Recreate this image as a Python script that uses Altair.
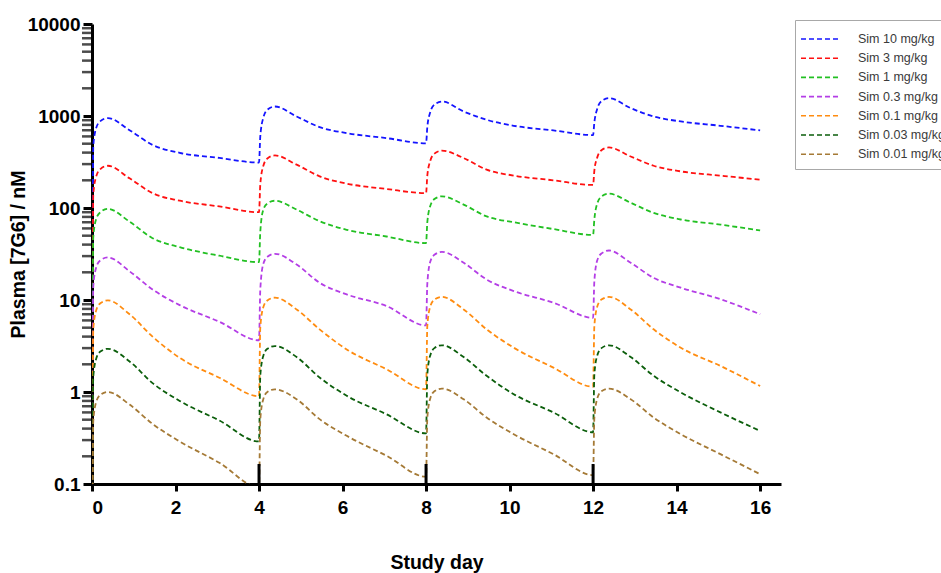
import altair as alt
import pandas as pd

# Simulated plasma concentration of 7G6 (nM), dosing every 4 days
times = [
    0.0, 0.03, 0.1, 0.2, 0.38, 0.9, 1.45, 2.1, 3.05,
    4.0, 4.03, 4.1, 4.2, 4.38, 4.9, 5.45, 6.1, 7.05,
    8.0, 8.03, 8.1, 8.2, 8.38, 8.9, 9.45, 10.1, 11.05,
    12.0, 12.03, 12.1, 12.2, 12.38, 12.9, 13.45, 14.1, 15.05,
    16.0,
]

sim_10 = [
    0.01, 470, 740, 880, 950, 700, 485, 398, 350,
    312, 600, 950, 1170, 1268, 988, 757, 652, 575,
    505, 760, 1100, 1330, 1436, 1119, 910, 783, 697,
    620, 850, 1200, 1450, 1563, 1218, 988, 872, 783,
    697,
]
sim_3 = [
    0.01, 140, 220, 265, 288, 210, 145, 120, 104,
    90, 180, 285, 345, 373, 296, 221, 184, 161,
    145, 225, 325, 390, 420, 349, 261, 225, 200,
    178, 255, 355, 425, 455, 363, 288, 250, 225,
    203,
]
sim_1 = [
    0.01, 48, 76, 90, 98, 71, 47, 37.5, 30.3,
    25.8, 55, 95, 112, 120, 96, 72, 58, 49,
    41.5, 70, 105, 125, 134, 109, 81, 70, 59,
    51, 75, 112, 133, 143, 114, 88.5, 75, 66,
    57,
]
sim_03 = [
    0.01, 14, 22.5, 27, 29, 20.5, 13, 8.8, 5.8,
    3.65, 13, 24.5, 29.5, 31.8, 24.3, 15.4, 11.5, 8.6,
    5.3, 15, 26, 31, 33.4, 25.4, 16.7, 12.5, 9.35,
    6.4, 16, 27, 32, 34.5, 25.4, 17.4, 13.6, 10.2,
    7.0,
]
sim_01 = [
    0.01, 4.8, 7.7, 9.2, 9.9, 7.0, 4.0, 2.35, 1.43,
    0.9, 5.0, 8.3, 9.9, 10.6, 7.9, 4.8, 2.9, 1.77,
    1.07, 5.2, 8.5, 10.1, 10.8, 7.9, 4.8, 3.03, 1.84,
    1.14, 5.2, 8.5, 10.1, 10.8, 7.9, 4.8, 3.03, 1.92,
    1.16,
]
sim_003 = [
    0.01, 1.45, 2.3, 2.75, 2.95, 2.15, 1.25, 0.8, 0.49,
    0.29, 1.5, 2.45, 2.95, 3.16, 2.4, 1.44, 0.91, 0.574,
    0.355, 1.55, 2.5, 3.0, 3.22, 2.4, 1.5, 0.946, 0.6,
    0.365, 1.55, 2.5, 3.0, 3.22, 2.4, 1.5, 0.99, 0.6,
    0.378,
]
sim_001 = [
    0.01, 0.48, 0.78, 0.93, 1.0, 0.73, 0.45, 0.29, 0.17,
    0.092, 0.5, 0.83, 1.0, 1.07, 0.835, 0.507, 0.334, 0.203,
    0.12, 0.52, 0.85, 1.02, 1.09, 0.835, 0.528, 0.348, 0.211,
    0.125, 0.52, 0.85, 1.02, 1.09, 0.835, 0.528, 0.348, 0.211,
    0.128,
]

series_names = [
    "Sim 10 mg/kg", "Sim 3 mg/kg", "Sim 1 mg/kg", "Sim 0.3 mg/kg",
    "Sim 0.1 mg/kg", "Sim 0.03 mg/kg", "Sim 0.01 mg/kg",
]
series_values = [sim_10, sim_3, sim_1, sim_03, sim_01, sim_003, sim_001]
series_colors = [
    "#1414ff", "#ff1010", "#22c022", "#b43ee6",
    "#ff8c10", "#0b5e0b", "#a57a36",
]

# Dose days and the marker height drawn at each
dose_days = [4, 8, 12]
dose_marker_top = 0.165

y_ticks = [0.1, 1, 10, 100, 1000, 10000]
y_minor = [m * 10.0 ** e for e in range(-1, 4) for m in range(2, 10)]
x_ticks = [0, 2, 4, 6, 8, 10, 12, 14, 16]

rows = []
for name, vals in zip(series_names, series_values):
    for t, v in zip(times, vals):
        rows.append({"day": t, "conc": v, "series": name})
df = pd.DataFrame(rows)

dose_df = pd.DataFrame({"day": dose_days, "lo": [0.1] * len(dose_days),
                        "hi": [dose_marker_top] * len(dose_days)})
minor_df = pd.DataFrame({"conc": y_minor})

FONT = "Liberation Sans"

x_scale = alt.Scale(domain=[0, 16.5], nice=False, zero=False)
y_scale = alt.Scale(type="log", domain=[0.1, 10000], nice=False)

lines = alt.Chart(df).mark_line(
    strokeDash=[5, 3], strokeWidth=1.8, clip=True, interpolate="monotone"
).encode(
    x=alt.X("day:Q", scale=x_scale,
            axis=alt.Axis(values=x_ticks, title="Study day", format="d",
                          titlePadding=36)),
    y=alt.Y("conc:Q", scale=y_scale,
            axis=alt.Axis(values=y_ticks, title="Plasma [7G6] / nM",
                          format="~g", titlePadding=-1)),
    color=alt.Color(
        "series:N",
        scale=alt.Scale(domain=series_names, range=series_colors),
        sort=series_names,
        legend=alt.Legend(
            title=None, orient="none", legendX=703, legendY=-4,
            # dashed swatch shifted right of the symbol centre
            symbolType="M-1.3,0H2.7", symbolDash=[5, 3],
            symbolStrokeWidth=1.6, symbolSize=400,
            labelFont=FONT, labelFontSize=12.5, labelColor="#3a3a3a",
            labelLimit=300, labelOffset=33, rowPadding=1.2,
            strokeColor="#a8a8a8", padding=8, fillColor="white",
        ),
    ),
)

dose_marks = alt.Chart(dose_df).mark_rule(color="black", strokeWidth=3).encode(
    x=alt.X("day:Q", scale=x_scale),
    y=alt.Y("lo:Q", scale=y_scale),
    y2="hi:Q",
)

# Minor log ticks along the left axis
minor_ticks = alt.Chart(minor_df).mark_tick(
    color="black", thickness=2.5, size=10, orient="horizontal"
).encode(
    y=alt.Y("conc:Q", scale=y_scale),
    x=alt.value(-5),
)

chart = alt.layer(lines, dose_marks, minor_ticks).properties(
    width=689, height=460,
    autosize=alt.AutoSizeParams(type="none"),
    padding={"left": 92, "top": 24, "right": 160, "bottom": 89},
).configure_view(stroke=None).configure_axis(
    domainColor="black", domainWidth=3, tickColor="black", tickWidth=3,
    grid=False, labelFont=FONT, labelFontSize=19, labelFontWeight="bold",
    labelColor="black", titleFont=FONT, titleFontSize=19.5,
    titleFontWeight="bold", titleColor="black",
).configure_axisX(
    tickSize=7, labelPadding=7,
).configure_axisY(
    tickSize=9, labelPadding=3,
)

chart.save("out.html", embed_options={"renderer": "svg", "actions": False})
